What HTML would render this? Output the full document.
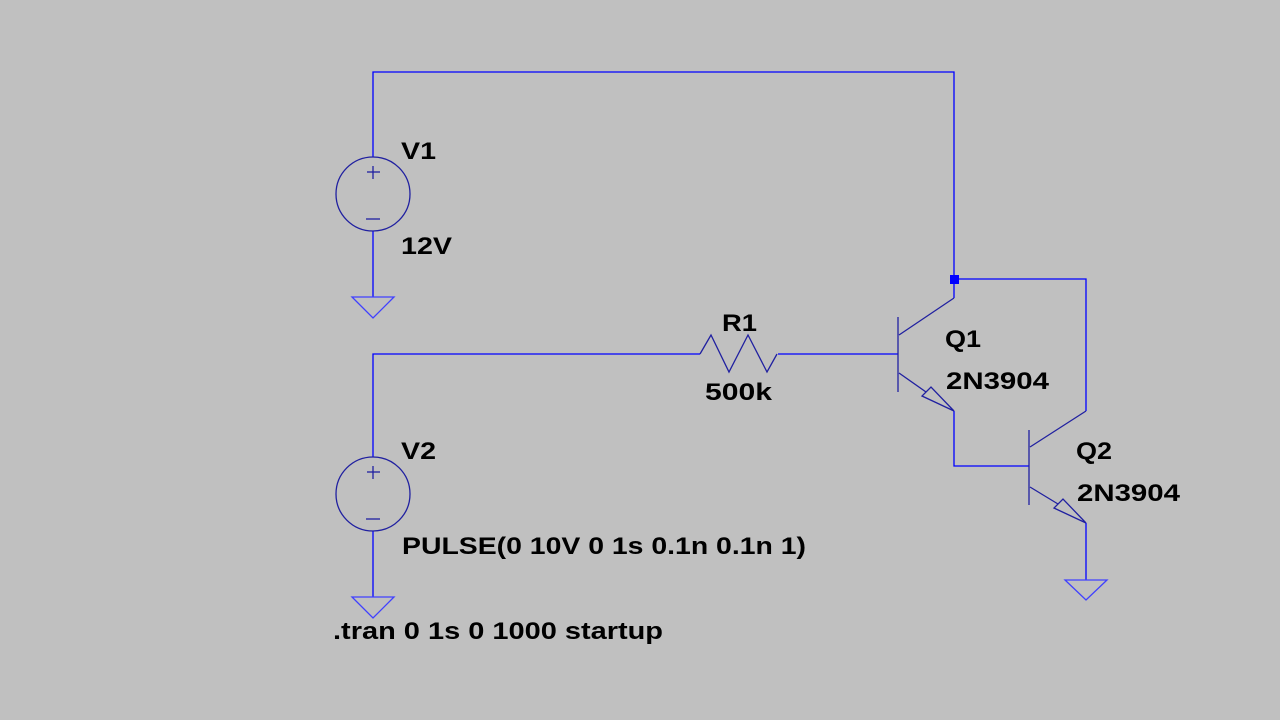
<!DOCTYPE html>
<html><head><meta charset="utf-8"><style>
html,body{margin:0;padding:0;background:#c0c0c0;}
svg{display:block}
text{font-family:"Liberation Sans",sans-serif;font-weight:bold;font-size:24px;fill:#000}
</style></head><body>
<svg width="1280" height="720" viewBox="0 0 1280 720" xmlns="http://www.w3.org/2000/svg">
<rect width="1280" height="720" fill="#c0c0c0"/>
<g fill="none" stroke="#0000ff" stroke-width="1.3">
<polyline points="373,157 373,72 954,72 954,298"/>
<polyline points="954,279 1086,279 1086,411"/>
<line x1="373" y1="231" x2="373" y2="297"/>
<polyline points="373,457 373,354 700,354"/>
<polyline points="778,354 898,354"/>
<line x1="373" y1="531" x2="373" y2="597"/>
<polyline points="954,411 954,466 1029,466"/>
<line x1="1086" y1="523" x2="1086" y2="580"/>
</g>
<g fill="none" stroke="#2020a0" stroke-width="1.3">
<circle cx="373" cy="194" r="37"/>
<line x1="367" y1="172" x2="380" y2="172"/><line x1="373" y1="166" x2="373" y2="179"/>
<line x1="366" y1="219" x2="380" y2="219"/>
<circle cx="373" cy="494" r="37"/>
<line x1="367" y1="472" x2="380" y2="472"/><line x1="373" y1="466" x2="373" y2="479"/>
<line x1="366" y1="519" x2="380" y2="519"/>
<polyline points="700,354 711,335 729,372 748,335 767,372 777,354"/>
<line x1="898" y1="317" x2="898" y2="392"/>
<line x1="899" y1="335" x2="954" y2="298"/>
<line x1="899" y1="373" x2="926" y2="392"/>
<polygon points="954,411 922,396 931,387"/>
<line x1="1029" y1="430" x2="1029" y2="505"/>
<line x1="1030" y1="447" x2="1086" y2="411"/>
<line x1="1030" y1="487" x2="1058" y2="504"/>
<polygon points="1086,523 1054,508 1063,499"/>
</g>
<g fill="none" stroke="#4040ff" stroke-width="1.3">
<polygon points="352,297 394,297 373,318"/>
<polygon points="352,597 394,597 373,618"/>
<polygon points="1065,580 1107,580 1086,600"/>
</g>
<rect x="950" y="275" width="9" height="9" fill="#0000ff"/>
<text x="401" y="159" textLength="35" lengthAdjust="spacingAndGlyphs">V1</text>
<text x="401" y="254" textLength="51" lengthAdjust="spacingAndGlyphs">12V</text>
<text x="722" y="331" textLength="35" lengthAdjust="spacingAndGlyphs">R1</text>
<text x="705" y="400" textLength="67" lengthAdjust="spacingAndGlyphs">500k</text>
<text x="945" y="347" textLength="36" lengthAdjust="spacingAndGlyphs">Q1</text>
<text x="946" y="389" textLength="103" lengthAdjust="spacingAndGlyphs">2N3904</text>
<text x="1076" y="459" textLength="36" lengthAdjust="spacingAndGlyphs">Q2</text>
<text x="1077" y="501" textLength="103" lengthAdjust="spacingAndGlyphs">2N3904</text>
<text x="401" y="459" textLength="35" lengthAdjust="spacingAndGlyphs">V2</text>
<text x="402" y="554" textLength="404" lengthAdjust="spacingAndGlyphs">PULSE(0 10V 0 1s 0.1n 0.1n 1)</text>
<text x="333" y="639" textLength="330" lengthAdjust="spacingAndGlyphs">.tran 0 1s 0 1000 startup</text>
</svg>
</body></html>
